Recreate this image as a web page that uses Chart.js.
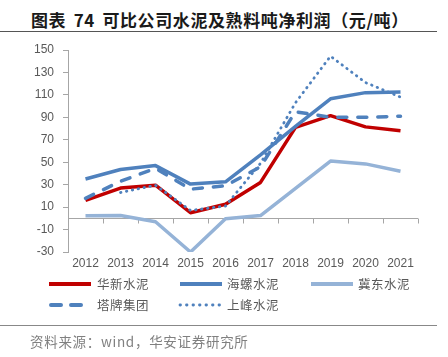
<!DOCTYPE html>
<html><head><meta charset="utf-8">
<script src="https://cdn.jsdelivr.net/npm/chart.js@4/dist/chart.umd.min.js"></script>
<style>
html,body{margin:0;padding:0;background:#fff;}
#wrap{position:relative;width:448px;height:357px;overflow:hidden;font-family:"Noto Sans CJK SC","Liberation Sans",sans-serif;}
#c{position:absolute;left:0;top:0;}
#title{position:absolute;left:31px;top:7px;font-size:17px;font-weight:bold;color:#1a1a1a;white-space:nowrap;letter-spacing:0.6px;word-spacing:3px;font-family:"Noto Sans CJK SC",sans-serif;}
#tline{position:absolute;left:0;top:31px;width:437px;height:0;border-top:1.5px solid #555;}
#fline{position:absolute;left:0;top:325px;width:437px;height:0;border-top:1.5px solid #888;}
#foot{position:absolute;left:30px;top:331px;font-size:13.5px;color:#808080;white-space:nowrap;letter-spacing:0.7px;}
.lg{position:absolute;font-size:12.5px;color:#595959;white-space:nowrap;line-height:16px;letter-spacing:0.5px;}
.ls{position:absolute;}
</style></head>
<body><div id="wrap">
<div id="title">图表 74 可比公司水泥及熟料吨净利润（元/吨）</div>
<div id="tline"></div>
<canvas id="c" width="448" height="357"></canvas>
<div id="legend"></div>
<div id="fline"></div>
<div id="foot">资料来源：wind，华安证券研究所</div>
</div>
<script>
const years = ['2012','2013','2014','2015','2016','2017','2018','2019','2020','2021'];
const huaxin   = [16, 27, 29.5, 5, 12.5, 32, 81, 91.5, 81.5, 78];
const hailuo   = [35, 43.5, 47, 30.5, 32.5, 56.5, 82, 106.5, 112, 112.5];
const jidong   = [2.3, 2.5, -3, -30, -0.3, 2.5, 26.7, 51, 48.5, 42];
const tapai    = [17.8, 33, 44.6, 26, 29, 46, 95, 90, 90, 91];
const shangfeng= [null, 23, 29.5, 7, 11, 49, 103, 144.5, 121, 108];
const names = ['华新水泥','海螺水泥','冀东水泥','塔牌集团','上峰水泥'];
const yMin = -30, yMax = 150, yStep = 20;

const RED='#C00000', DB='#4F81BD', LB='#95B3D7';
const styles = [
  {color:RED, dash:[], cap:'butt', w:3.5},
  {color:DB, dash:[], cap:'butt', w:3.5},
  {color:LB, dash:[], cap:'butt', w:3.5},
  {color:DB, dash:[9,11], cap:'round', w:3.5},
  {color:DB, dash:[0.5,5.5], cap:'round', w:2.8}
];
const series = [huaxin, hailuo, jidong, tapai, shangfeng];

const datasets = series.map((d,i)=>({
  label:names[i], data:d, borderColor:styles[i].color, backgroundColor:styles[i].color,
  borderWidth:styles[i].w, borderDash:styles[i].dash, borderCapStyle:styles[i].cap,
  borderJoinStyle:'round', pointRadius:0, tension:0, fill:false, order:5-i, spanGaps:false
}));

const zeroAxisBelow = {
  id:'zeroAxisBelow',
  beforeDatasetsDraw(chart){
    const ctx=chart.ctx, x=chart.scales.x, y=chart.scales.y;
    const y0=Math.round(y.getPixelForValue(0))+0.5;
    ctx.save();
    ctx.strokeStyle='#A6A6A6'; ctx.lineWidth=1;
    ctx.beginPath(); ctx.moveTo(x.left,y0); ctx.lineTo(x.right,y0);
    const n=years.length;
    for(let i=1;i<=n;i++){
      const px=Math.round(x.left+i*(x.right-x.left)/n)+0.5;
      ctx.moveTo(px,y0); ctx.lineTo(px,y0+5);
    }
    ctx.stroke();
    ctx.restore();
  }
};

new Chart(document.getElementById('c'),{
  type:'line',
  data:{labels:years, datasets},
  options:{
    responsive:false, animation:false, devicePixelRatio:1,
    layout:{padding:{left:0,right:30,top:50,bottom:85}},
    plugins:{legend:{display:false}, tooltip:{enabled:false}},
    scales:{
      x:{offset:true, grid:{display:false, drawTicks:false}, border:{display:false},
         ticks:{color:'#595959', font:{family:'"Liberation Sans", Arial, sans-serif', size:12}, padding:4, maxRotation:0, autoSkip:false},
         afterFit(s){ s.height=20; }},
      y:{min:yMin, max:yMax, grid:{drawOnChartArea:false, drawTicks:true, tickLength:5, tickColor:'#A6A6A6', color:'#A6A6A6'},
         border:{display:true, color:'#A6A6A6', width:1},
         ticks:{stepSize:yStep, color:'#595959', font:{family:'"Liberation Sans", Arial, sans-serif', size:12}, padding:9},
         afterFit(s){ s.width=68; }}
    }
  },
  plugins:[zeroAxisBelow]
});

// legend
const legendPos = [
  {lx:49, tx:97, y:284},
  {lx:180, tx:227, y:284},
  {lx:311, tx:358, y:284},
  {lx:49, tx:97, y:305},
  {lx:180, tx:227, y:305}
];
const lg = document.getElementById('legend');
names.forEach((nm,i)=>{
  const p=legendPos[i], s=styles[i];
  const cv=document.createElement('canvas');
  cv.width=46; cv.height=10; cv.className='ls';
  cv.style.left=(p.lx-2)+'px'; cv.style.top=(p.y-5)+'px';
  const c=cv.getContext('2d');
  c.strokeStyle=s.color; c.lineCap=s.cap; c.lineWidth=(i===4?2.8:4);
  c.setLineDash(i===3?[10,10]:(i===4?[0.5,6]:[]));
  c.beginPath(); c.moveTo(i===3?4:2,5); c.lineTo(44,5); c.stroke();
  lg.appendChild(cv);
  const t=document.createElement('div');
  t.className='lg'; t.textContent=nm; t.style.left=p.tx+'px'; t.style.top=(p.y-8)+'px';
  lg.appendChild(t);
});
</script>
</body></html>
